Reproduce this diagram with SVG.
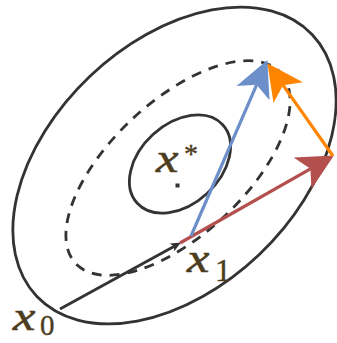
<svg xmlns="http://www.w3.org/2000/svg" width="337" height="343" viewBox="0 0 337 343">
<style>
.ell{fill:none;stroke:#333;stroke-width:2.8}
.dash{stroke-dasharray:10 8}
.lbl{font-family:"Liberation Serif",serif;font-style:italic;fill:#4d3d1f;stroke:#4d3d1f;stroke-width:0.6}
.num{font-family:"Liberation Serif",serif;fill:#4d3d1f;stroke:#4d3d1f;stroke-width:0.4}
</style>
<defs>
<marker id="ab" markerUnits="userSpaceOnUse" markerWidth="40" markerHeight="40" refX="9" refY="18" orient="auto" overflow="visible"><path d="M36,18 L0,0 L9,18 L0,36 Z" fill="#6d8fc9"/></marker>
<marker id="ar" markerUnits="userSpaceOnUse" markerWidth="40" markerHeight="40" refX="9" refY="18" orient="auto" overflow="visible"><path d="M36,18 L0,0 L9,18 L0,36 Z" fill="#b34f4d"/></marker>
<marker id="ao" markerUnits="userSpaceOnUse" markerWidth="40" markerHeight="40" refX="9" refY="18" orient="auto" overflow="visible"><path d="M36,18 L0,0 L9,18 L0,36 Z" fill="#ff8400"/></marker>
<marker id="ak" markerUnits="userSpaceOnUse" markerWidth="12" markerHeight="12" refX="2" refY="5" orient="auto" overflow="visible"><path d="M10,5 L0,0.5 L2,5 L0,9.5 Z" fill="#333"/></marker>
</defs>
<g id="outer"><ellipse class="ell" cx="174.5" cy="165.5" rx="190" ry="123" transform="rotate(-43.6 174.5 165.5)"/></g>
<g id="level"><ellipse class="ell dash" cx="178" cy="168" rx="140" ry="67" transform="rotate(-43 178 168)"/></g>
<g id="inner"><ellipse class="ell" cx="180" cy="164" rx="58" ry="40" transform="rotate(-42.6 180 164)"/></g>
<g id="xstar">
<rect x="175.5" y="183.5" width="4" height="4" fill="#333"/>
<text class="lbl" font-size="42" transform="translate(156 172) scale(1.2 1)">x</text>
<text class="num" font-size="28" x="184" y="163">*</text>
</g>
<g id="connectors">
<line x1="60" y1="309" x2="173.9" y2="246.4" stroke="#333" stroke-width="2.8" marker-end="url(#ak)"/>
<line x1="180" y1="243" x2="310.4" y2="168.8" stroke="#b34f4d" stroke-width="3.2" marker-end="url(#ar)"/>
<line x1="191" y1="236" x2="256.6" y2="84.8" stroke="#6d8fc9" stroke-width="3.2" marker-end="url(#ab)"/>
<line x1="333" y1="156" x2="283" y2="85.2" stroke="#ff8400" stroke-width="3.2" marker-end="url(#ao)"/>
</g>
<g id="x1">
<text class="lbl" font-size="42" transform="translate(187 272) scale(1.2 1)">x</text>
<text class="num" font-size="32" x="215" y="281">1</text>
</g>
<g id="x0">
<text class="lbl" font-size="42" transform="translate(13 330) scale(1.2 1)">x</text>
<text class="num" font-size="29" x="40" y="335">0</text>
</g>
</svg>
